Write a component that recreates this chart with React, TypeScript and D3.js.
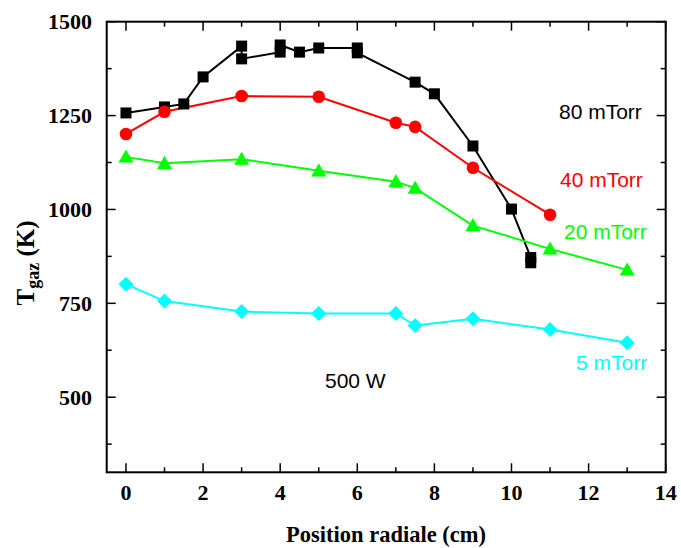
import React from "react";
import * as d3 from "d3";

const x80 = [0, 1, 1.5, 2, 3, 3, 4, 4, 4.5, 5, 6, 6, 7.5, 8, 9, 10, 10.5, 10.5];
const y80 = [1257, 1273, 1281, 1353, 1435, 1401, 1419, 1438, 1419, 1430, 1430, 1417, 1339, 1308, 1169, 1001, 872, 858];
const x40 = [0, 1, 3, 5, 7, 7.5, 9, 11];
const y40 = [1201, 1260, 1302, 1300, 1231, 1220, 1111, 986];
const x20 = [0, 1, 3, 5, 7, 7.5, 9, 11, 13];
const y20 = [1140, 1123, 1134, 1103, 1074, 1057, 957, 895, 839];
const x5 = [0, 1, 3, 5, 7, 7.5, 9, 11, 13];
const y5 = [801, 756, 728, 723, 723, 691, 709, 680, 645];

const xTicks = [0, 2, 4, 6, 8, 10, 12, 14];
const xMinor = [1, 3, 5, 7, 9, 11, 13];
const yTicks = [500, 750, 1000, 1250, 1500];
const yMinor = [375, 625, 875, 1125, 1375];

const seriesLabels = ["80 mTorr", "40 mTorr", "20 mTorr", "5 mTorr"];
const colors = ["#000000", "#ff0000", "#00ff00", "#00ffff"];

const L = 106.7, R = 665.7, T = 21.7, B = 472.3;

export default function App() {
  const x = d3.scaleLinear().domain([-0.5, 14]).range([L, R]);
  const y = d3.scaleLinear().domain([300, 1500]).range([B, T]);
  const line = d3.line<[number, number]>().x(d => x(d[0])).y(d => y(d[1]));
  const zip = (a: number[], b: number[]) => a.map((v, i) => [v, b[i]] as [number, number]);
  const series = [zip(x80, y80), zip(x40, y40), zip(x20, y20), zip(x5, y5)];
  const marker = (k: number, px: number, py: number, key: string) => {
    const c = colors[k];
    if (k === 0) return <rect key={key} x={px - 5.5} y={py - 5.5} width={11} height={11} fill={c} />;
    if (k === 1) return <circle key={key} cx={px} cy={py} r={6.3} fill={c} />;
    if (k === 2) {
      const s = 7.5;
      return <path key={key} d={`M${px},${py - s}L${px + s},${py + s * 0.75}L${px - s},${py + s * 0.75}Z`} fill={c} />;
    }
    const s = 7.5;
    return <path key={key} d={`M${px},${py - s}L${px + s},${py}L${px},${py + s}L${px - s},${py}Z`} fill={c} />;
  };
  const labelPos = [
    { x: 559, y: 119 },
    { x: 560, y: 187 },
    { x: 564, y: 239 },
    { x: 576, y: 370 },
  ];
  return (
    <svg width={681} height={548} style={{ position: "absolute", left: 0, top: 0 }}>
      <rect x={0} y={0} width={681} height={548} fill="#fff" />
      {series.map((s, k) => (
        <path key={"l" + k} d={line(s) || ""} fill="none" stroke={colors[k]} strokeWidth={2} />
      ))}
      {series.map((s, k) => s.map((d, i) => marker(k, x(d[0]), y(d[1]), `m${k}-${i}`)))}
      <rect x={L} y={T} width={R - L} height={B - T} fill="none" stroke="#000" strokeWidth={2} />
      {xTicks.map(t => (
        <g key={"xt" + t}>
          <line x1={x(t)} x2={x(t)} y1={B} y2={B - 9} stroke="#000" strokeWidth={1.5} />
          <line x1={x(t)} x2={x(t)} y1={T} y2={T + 9} stroke="#000" strokeWidth={1.5} />
          <text x={x(t)} y={500} textAnchor="middle" fontFamily="Liberation Serif" fontWeight="bold" fontSize={22}>{t}</text>
        </g>
      ))}
      {xMinor.map(t => (
        <g key={"xm" + t}>
          <line x1={x(t)} x2={x(t)} y1={B} y2={B - 5} stroke="#000" strokeWidth={1.5} />
          <line x1={x(t)} x2={x(t)} y1={T} y2={T + 5} stroke="#000" strokeWidth={1.5} />
        </g>
      ))}
      {yTicks.map(t => (
        <g key={"yt" + t}>
          <line x1={L} x2={L + 9} y1={y(t)} y2={y(t)} stroke="#000" strokeWidth={1.5} />
          <line x1={R} x2={R - 9} y1={y(t)} y2={y(t)} stroke="#000" strokeWidth={1.5} />
          <text x={92} y={y(t) + 7.5} textAnchor="end" fontFamily="Liberation Serif" fontWeight="bold" fontSize={22}>{t}</text>
        </g>
      ))}
      {yMinor.map(t => (
        <g key={"ym" + t}>
          <line x1={L} x2={L + 5} y1={y(t)} y2={y(t)} stroke="#000" strokeWidth={1.5} />
          <line x1={R} x2={R - 5} y1={y(t)} y2={y(t)} stroke="#000" strokeWidth={1.5} />
        </g>
      ))}
      {seriesLabels.map((s, k) => (
        <text key={"lab" + k} x={labelPos[k].x} y={labelPos[k].y} fill={colors[k]} fontFamily="Liberation Sans" fontSize={21}>{s}</text>
      ))}
      <text x={325} y={388} fontFamily="Liberation Sans" fontSize={21}>500 W</text>
      <text x={386} y={542} textAnchor="middle" fontFamily="Liberation Serif" fontWeight="bold" fontSize={22.5}>Position radiale (cm)</text>
      <text transform="translate(34,263) rotate(-90)" textAnchor="middle" fontFamily="Liberation Serif" fontWeight="bold" fontSize={25}>
        T<tspan fontSize={18} dy={5}>gaz</tspan><tspan dy={-5}> (K)</tspan>
      </text>
    </svg>
  );
}
